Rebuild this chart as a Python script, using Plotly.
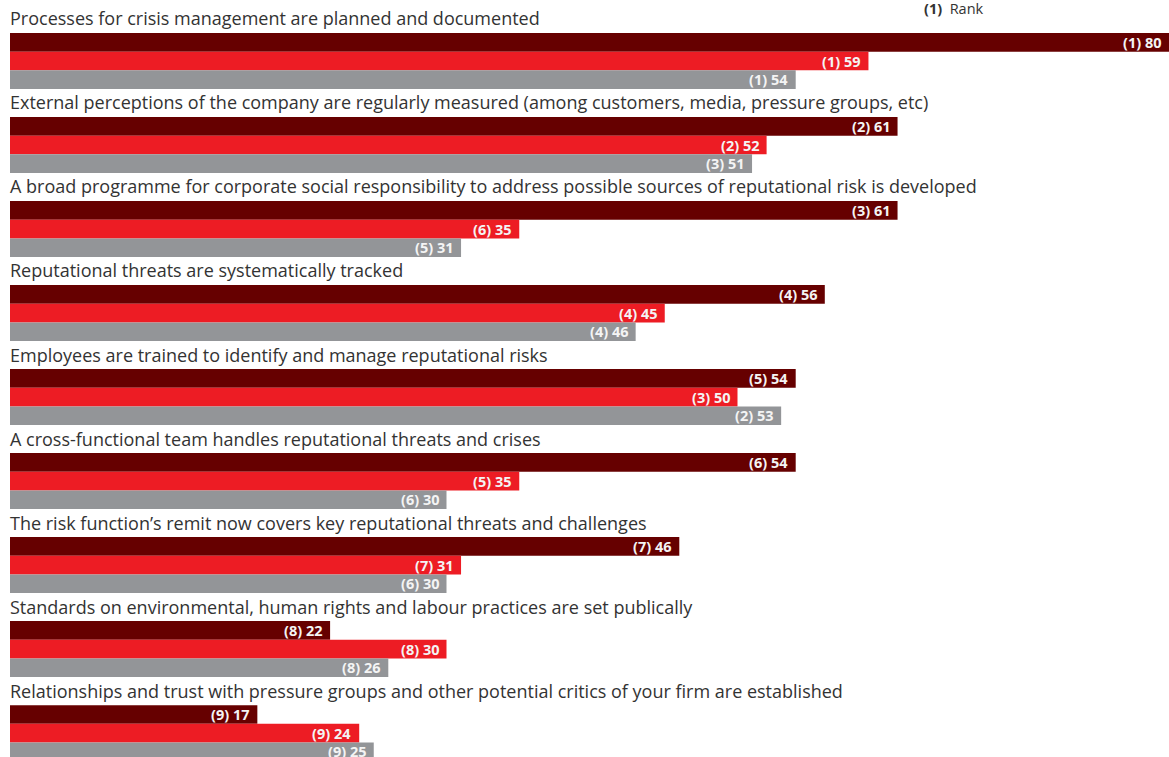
import plotly.graph_objects as go

categories = [
    "Processes for crisis management are planned and documented",
    "External perceptions of the company are regularly measured (among customers, media, pressure groups, etc)",
    "A broad programme for corporate social responsibility to address possible sources of reputational risk is developed",
    "Reputational threats are systematically tracked",
    "Employees are trained to identify and manage reputational risks",
    "A cross-functional team handles reputational threats and crises",
    "The risk function\u2019s remit now covers key reputational threats and challenges",
    "Standards on environmental, human rights and labour practices are set publically",
    "Relationships and trust with pressure groups and other potential critics of your firm are established",
]

dark_values = [80, 61, 61, 56, 54, 54, 46, 22, 17]
dark_ranks = [1, 2, 3, 4, 5, 6, 7, 8, 9]
red_values = [59, 52, 35, 45, 50, 35, 31, 30, 24]
red_ranks = [1, 2, 6, 4, 3, 5, 7, 8, 9]
gray_values = [54, 51, 31, 46, 53, 30, 30, 26, 25]
gray_ranks = [1, 3, 5, 4, 2, 6, 6, 8, 9]
# bar length as drawn in the reference (one bar is drawn shorter than its printed value)
gray_lengths = [54, 51, 31, 43, 53, 30, 30, 26, 25]

series = [
    ("dark", dark_values, dark_values, dark_ranks, "#660000", 2.0),
    ("red", red_values, red_values, red_ranks, "#ED1C24", 3.0),
    ("gray", gray_lengths, gray_values, gray_ranks, "#939598", 4.0),
]

GROUP = 4.5
FONT = "Open Sans"
XMAX = 1159 / 14.55

fig = go.Figure()
annotations = []
for name, lengths, vals, ranks, color, off in series:
    ys = [i * GROUP + off for i in range(len(categories))]
    fig.add_trace(go.Bar(
        x=lengths, y=ys, orientation="h", width=1.0,
        marker=dict(color=color, line=dict(width=0)),
        name=name, showlegend=False, hoverinfo="skip",
    ))
    for L, v, r, y in zip(lengths, vals, ranks, ys):
        annotations.append(dict(
            x=min(L, XMAX), y=y, xref="x", yref="y", xanchor="right", yanchor="middle",
            text=f"<b>({r}) {v}</b>", showarrow=False, xshift=-6,
            font=dict(family=FONT, size=14.5, color="#f4f4f4"),
        ))

for i, c in enumerate(categories):
    annotations.append(dict(
        x=0, y=i * GROUP + 0.72, xref="x", yref="y", xanchor="left", yanchor="middle",
        text=c, showarrow=False, xshift=-2,
        font=dict(family=FONT, size=18, color="#333333"),
    ))

annotations.append(dict(
    x=(922 - 10) / 1159, y=(757 - 8) / 757, xref="paper", yref="paper",
    xanchor="left", yanchor="middle",
    text="<b>(1)</b>  Rank", showarrow=False,
    font=dict(family=FONT, size=14.5, color="#333333"),
))

fig.update_layout(
    width=1169, height=757,
    margin=dict(l=10, r=0, t=0, b=0),
    paper_bgcolor="white", plot_bgcolor="white",
    barmode="overlay",
    xaxis=dict(range=[0, XMAX], visible=False, fixedrange=True),
    yaxis=dict(range=[752 / 18.67, -5 / 18.67], visible=False, fixedrange=True),
    annotations=annotations,
)

fig.write_html("out.html", config={"displayModeBar": False},
               post_script="document.body.style.margin='0';")
